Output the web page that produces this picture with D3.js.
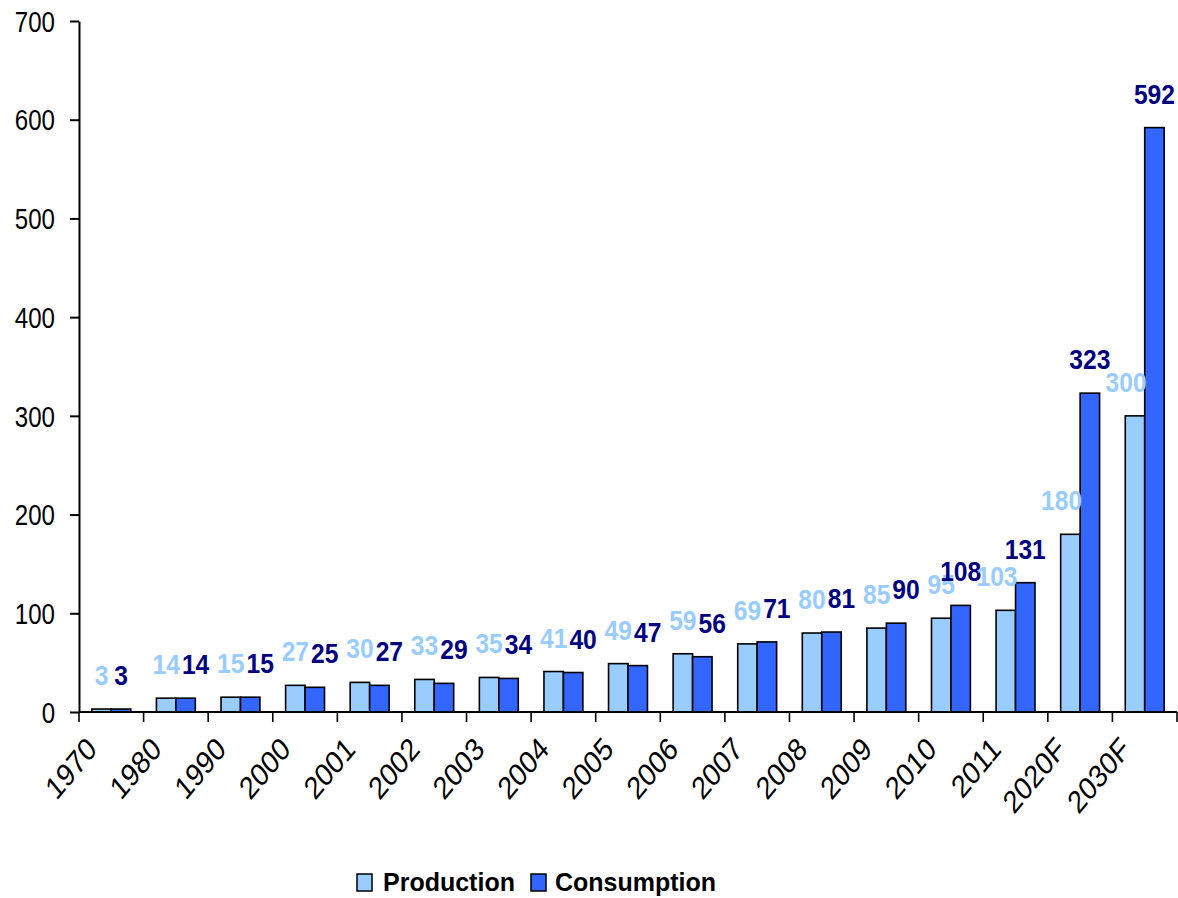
<!DOCTYPE html>
<html>
<head>
<meta charset="utf-8">
<script src="https://cdn.jsdelivr.net/npm/d3@7"></script>
<style>
  html, body { margin: 0; padding: 0; background: #fff; }
  svg { display: block; }
  text { font-family: "Liberation Sans", Arial, sans-serif; }
</style>
</head>
<body>
<svg id="chart" width="1178" height="898"></svg>
<script>
// Years (and forecast years) on the category axis
const categories = ["1970", "1980", "1990", "2000", "2001", "2002", "2003", "2004",
  "2005", "2006", "2007", "2008", "2009", "2010", "2011", "2020F", "2030F"];
const production = [3, 14, 15, 27, 30, 33, 35, 41, 49, 59, 69, 80, 85, 95, 103, 180, 300];
const consumption = [3, 14, 15, 25, 27, 29, 34, 40, 47, 56, 71, 81, 90, 108, 131, 323, 592];
const seriesNames = ["Production", "Consumption"];
const yTicks = [0, 100, 200, 300, 400, 500, 600, 700];

const fills = { Production: "#99CCFF", Consumption: "#3366FF" };
const labelColors = { Production: "#99CCFF", Consumption: "#000080" };

(function draw() {
  const svg = d3.select("#chart");
  const W = 1178, H = 898;
  svg.append("rect").attr("width", W).attr("height", H).attr("fill", "#fff");

  const plotLeft = 79, plotRight = 1177, plotTop = 21, plotBottom = 712;
  const axisSqueeze = 0.83;   // narrow face for the axis text
  const labelSqueeze = 0.88;  // narrow face for the value labels

  const x0 = d3.scaleBand().domain(categories).range([plotLeft, plotRight]).padding(0);
  const x1 = d3.scaleBand().domain(seriesNames).range([0, x0.bandwidth()])
    .paddingInner(0).paddingOuter(0.66);
  const y = d3.scaleLinear().domain([0, 700]).range([plotBottom, plotTop]);
  const bw = x1.bandwidth();

  const rows = categories.map((c, i) => ({
    cat: c,
    values: [
      { key: "Production", value: production[i] },
      { key: "Consumption", value: consumption[i] }
    ]
  }));

  // Bars
  const groups = svg.append("g").selectAll("g").data(rows).join("g")
    .attr("transform", d => `translate(${x0(d.cat)},0)`);

  groups.selectAll("rect").data(d => d.values).join("rect")
    .attr("x", d => x1(d.key))
    .attr("y", d => y(d.value))
    .attr("width", bw)
    .attr("height", d => y(0) - y(d.value))
    .attr("fill", d => fills[d.key])
    .attr("stroke", "#000")
    .attr("stroke-width", 1.6);

  // Value labels above bars, nudged sideways so they stay clear of
  // the neighbouring bar and of each other
  const labelLayer = svg.append("g");
  const place = (sel, cx, by) =>
    sel.attr("transform", `translate(${cx},${by}) scale(${labelSqueeze},1)`);

  rows.forEach(row => {
    const gx = x0(row.cat);
    const [p, c] = row.values;
    const mk = d => labelLayer.append("text")
      .attr("text-anchor", "middle")
      .attr("font-size", 28)
      .attr("font-weight", "bold")
      .attr("fill", labelColors[d.key])
      .text(d.value);

    const lp = mk(p), lc = mk(c);
    const wP = lp.node().getComputedTextLength() * labelSqueeze;
    const wC = lc.node().getComputedTextLength() * labelSqueeze;

    let cxP = gx + x1("Production") + bw / 2;
    const byP = y(p.value) - 24;
    const xcBar = gx + x1("Consumption");
    const ycBar = y(c.value);
    if (byP > ycBar && cxP + wP / 2 > xcBar + 2) cxP = xcBar + 2 - wP / 2;

    let cxC = xcBar + bw / 2;
    const byC = y(c.value) - 24;
    if (Math.abs(byP - byC) < 10 && cxC - wC / 2 < cxP + wP / 2 + 2) {
      cxC = cxP + wP / 2 + 2 + wC / 2;
    }
    place(lp, cxP, byP);
    place(lc, cxC, byC);
  });

  // Y axis
  const yAxis = svg.append("g")
    .attr("transform", `translate(${plotLeft},0)`)
    .call(d3.axisLeft(y).tickValues(yTicks).tickSize(9).tickPadding(0).tickSizeOuter(0));
  yAxis.select(".domain").attr("stroke", "#000").attr("stroke-width", 2);
  yAxis.selectAll(".tick line").attr("stroke", "#000").attr("stroke-width", 2);
  yAxis.selectAll(".tick text")
    .attr("font-family", "'Liberation Sans', Arial, sans-serif")
    .attr("font-size", 29)
    .attr("fill", "#000")
    .attr("x", -24 / axisSqueeze)
    .attr("dy", "0.35em")
    .attr("transform", `scale(${axisSqueeze},1)`);

  // X axis: baseline plus ticks at category boundaries
  const xg = svg.append("g");
  xg.append("line")
    .attr("x1", plotLeft).attr("x2", plotRight)
    .attr("y1", y(0)).attr("y2", y(0))
    .attr("stroke", "#000").attr("stroke-width", 2);
  const bounds = categories.map(c => x0(c))
    .concat([x0(categories[categories.length - 1]) + x0.bandwidth()]);
  xg.selectAll("line.tick").data(bounds).join("line")
    .attr("class", "tick")
    .attr("x1", d => d).attr("x2", d => d)
    .attr("y1", y(0)).attr("y2", y(0) + 10)
    .attr("stroke", "#000").attr("stroke-width", 1.6);

  xg.selectAll("text").data(categories).join("text")
    .attr("transform", d =>
      `translate(${x0(d) + x0.bandwidth() / 2 - 13},${y(0) + 39}) scale(${axisSqueeze},1) rotate(-45)`)
    .attr("text-anchor", "end")
    .attr("font-size", 32)
    .attr("fill", "#000")
    .text(d => d);

  // Legend
  const legend = svg.append("g");
  const legendItems = [
    { key: "Production", bx: 357, tx: 383 },
    { key: "Consumption", bx: 531, tx: 555 }
  ];
  legend.selectAll("rect").data(legendItems).join("rect")
    .attr("x", d => d.bx).attr("y", 874)
    .attr("width", 15).attr("height", 17)
    .attr("fill", d => fills[d.key])
    .attr("stroke", "#000").attr("stroke-width", 1.5);
  legend.selectAll("text").data(legendItems).join("text")
    .attr("x", d => d.tx).attr("y", 891)
    .attr("font-size", 25)
    .attr("font-weight", "bold")
    .attr("fill", "#000")
    .text(d => d.key);
})();
</script>
</body>
</html>
